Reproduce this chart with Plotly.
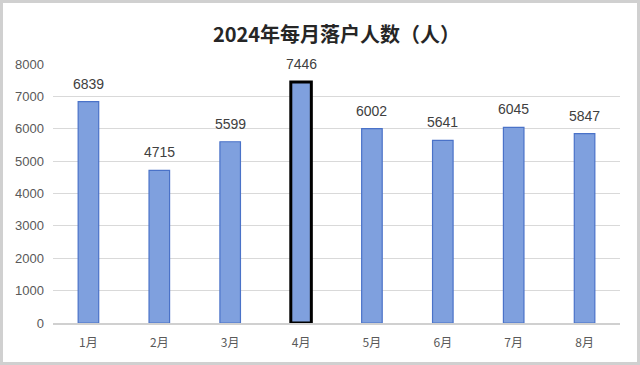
import plotly.graph_objects as go

months = ["1月", "2月", "3月", "4月", "5月", "6月", "7月", "8月"]
values = [6839, 4715, 5599, 7446, 6002, 5641, 6045, 5847]
y_ticks = [0, 1000, 2000, 3000, 4000, 5000, 6000, 7000, 8000]
highlight = "4月"

W, H = 640, 365
ml, mr, mt, mb = 53, 20, 64, 42

line_colors = ["#000000" if m == highlight else "#4A72C8" for m in months]
line_widths = [3 if m == highlight else 1.2 for m in months]

fig = go.Figure(go.Bar(
    x=months, y=values,
    marker=dict(color="#7FA0DE", line=dict(color=line_colors, width=line_widths)),
))

for m, v in zip(months, values):
    fig.add_annotation(x=m, y=v, text=str(v), showarrow=False, yanchor="bottom", yshift=8,
                       font=dict(family="Liberation Sans, Arial, sans-serif", size=14, color="#404040"))

pw = W - ml - mr
ph = H - mt - mb
fig.add_shape(type="rect", xref="paper", yref="paper",
              x0=-(ml - 1.5) / pw, x1=1 + (mr - 1.5) / pw,
              y0=-(mb - 1.5) / ph, y1=1 + (mt - 1.5) / ph,
              line=dict(color="#D0D0D0", width=3), layer="below")

fig.update_layout(
    width=W, height=H,
    margin=dict(l=ml, r=mr, t=mt, b=mb),
    paper_bgcolor="white", plot_bgcolor="white",
    bargap=0.71,
    showlegend=False,
    title=dict(text="<b>2024年每月落户人数（人）</b>", x=0.5, xref="paper", y=1 - 35 / H, yanchor="middle",
               font=dict(family="Noto Sans CJK SC", size=20, color="#262626")),
    xaxis=dict(showgrid=False, showline=True, linecolor="#D0D0D0", linewidth=1.5, ticks="",
               ticklabelstandoff=8,
               tickfont=dict(family="Noto Sans CJK SC", size=12, color="#595959")),
    yaxis=dict(range=[0, 8000], tickvals=y_ticks, showgrid=True, gridcolor="#D9D9D9", gridwidth=1,
               zeroline=False, ticks="", ticklen=0, ticklabelstandoff=8,
               tickfont=dict(family="Liberation Sans, Arial, sans-serif", size=13, color="#595959")),
)

fig.write_html("out.html")
